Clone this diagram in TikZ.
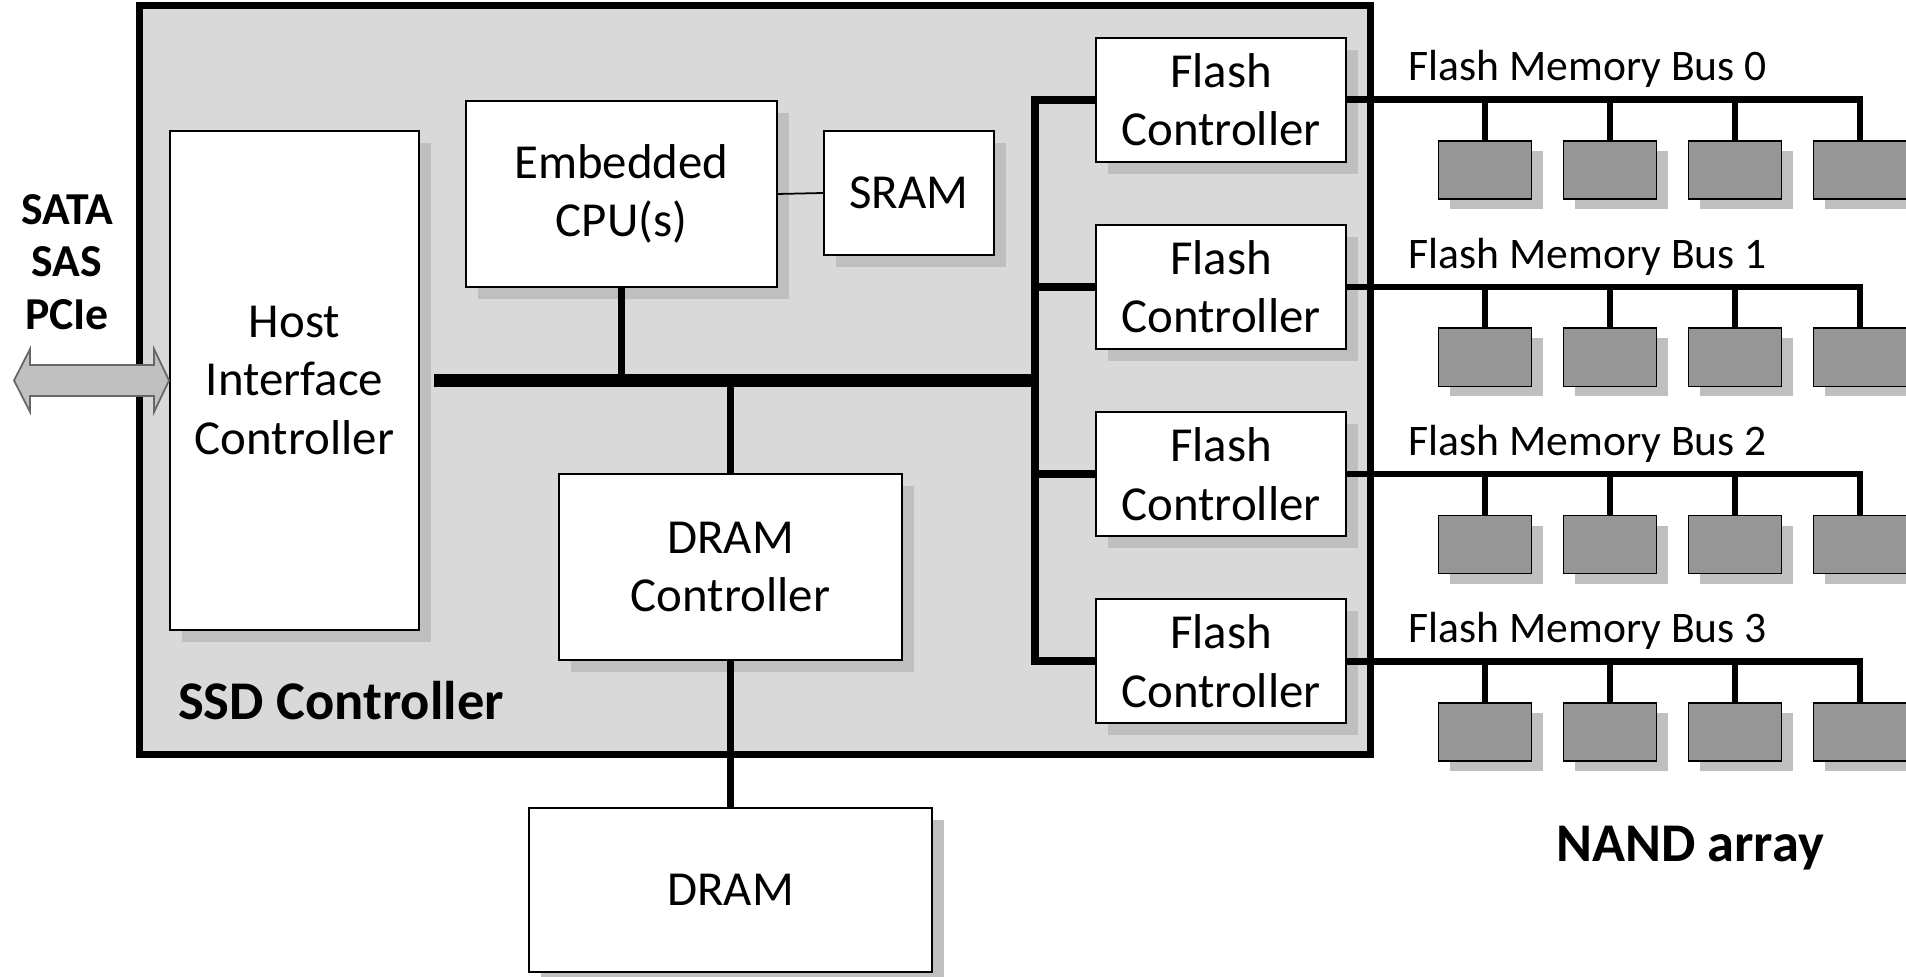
\documentclass[tikz,border=0pt]{standalone}
\usepackage{fontspec}
\setmainfont{Carlito}
\usetikzlibrary{shadows}
\definecolor{boardgray}{RGB}{217,217,217}
\definecolor{shadowgray}{RGB}{191,191,191}
\definecolor{chipgray}{RGB}{150,150,150}
\definecolor{linkgray}{RGB}{192,192,192}

\begin{document}
\begin{tikzpicture}[x=0.01cm,y=-0.01cm,
  boxshadow/.style={drop shadow={shadow xshift=0.12cm,shadow yshift=-0.12cm,fill=shadowgray,opacity=1}},
  block/.style={draw,line width=0.5pt,fill=white,inner sep=0pt,align=center,boxshadow,
    font=\fontsize{13.9}{16.6}\selectfont},
  chip/.style={draw,line width=0.5pt,fill=chipgray,minimum width=0.93cm,minimum height=0.58cm,
    drop shadow={shadow xshift=0.11cm,shadow yshift=-0.1cm,fill=shadowgray,opacity=1}},
  board/.style={draw,line width=1.9pt,fill=boardgray,minimum width=12.3cm,minimum height=7.48cm},
  hostlink/.style={draw=black!60,fill=linkgray,line width=0.5pt},
  mainbus/.style={line width=3.7pt},
  bus/.style={line width=2.2pt},
  membus/.style={line width=1.9pt},
  heading/.style={inner sep=0pt,font=\fontsize{15.5}{18}\selectfont\bfseries},
  buslabel/.style={inner sep=0pt,font=\fontsize{12.4}{15}\selectfont},
]

\useasboundingbox (0,0) rectangle (1906,977);

% controller board
\node[board] (ssd) at (755,380) {};
\node[heading,anchor=west] (ssdname) at (177.5,701) {SSD Controller};

\node[block,minimum width=2.49cm,minimum height=4.99cm] (host) at (294.5,380.5) {Host\\Interface\\Controller};
\node[block,minimum width=3.11cm,minimum height=1.86cm] (cpu) at (621.5,194) {Embedded\\CPU(s)};
\node[block,minimum width=1.70cm,minimum height=1.24cm] (sram) at (909,193) {SRAM};
\node[block,minimum width=3.43cm,minimum height=1.86cm] (dramctrl) at (730.5,567) {DRAM\\Controller};
\node[block,minimum width=4.03cm,minimum height=1.64cm] (dram) at (730.5,890) {DRAM};

% host side
\node[heading,align=center,font=\fontsize{13}{15}\selectfont\bfseries] (iface) at (67,262) {SATA\\SAS\\PCIe};
\draw[hostlink] (host.west) -- ++(-15,-31.5) -- ++(0,16) -- ++(-124,0) -- ++(0,-16) -- ++(-16,31.5)
  -- ++(16,31.5) -- ++(0,-16) -- ++(124,0) -- ++(0,16) -- cycle;

% flash channels
\foreach \i in {0,...,3}{
  \node[block,minimum width=2.5cm,minimum height=1.24cm] (flash\i) at (1221,99.7+187.2*\i) {Flash\\Controller};
  \node[buslabel,anchor=west] (bus\i) at (1408,69.3+187.2*\i) {Flash Memory Bus \i};
  \foreach \j in {1,...,4}
    \node[chip] (chip\i\j) at (1360+125*\j,170.2+187.2*\i) {};
}
\node[heading] (nand) at (1690,848.5) {NAND array};

% buses
\coordinate (busL) at (434,380.5);
\coordinate (busR) at (1035,380.5);
\draw[mainbus] (busL) -- (busR);
\draw[bus] (cpu.south) -- (cpu.south |- busL);
\draw[bus] (dramctrl.north) -- (dramctrl.north |- busL);
\draw[bus] (dramctrl.south) -- (dram.north);
\draw[line width=0.5pt] (cpu.east) -- (sram.west);
\draw[bus] (flash0.west) -- (flash0.west -| busR) -- (flash3.west -| busR) -- (flash3.west);
\draw[bus] (flash1.west -| busR) -- (flash1.west);
\draw[bus] (flash2.west -| busR) -- (flash2.west);
\foreach \i in {0,...,3}{
  \draw[membus] (flash\i.east) -| (chip\i4.north);
  \foreach \j in {1,2,3}
    \draw[membus] (chip\i\j.north |- flash\i.east) -- (chip\i\j.north);
}
\end{tikzpicture}
\end{document}
